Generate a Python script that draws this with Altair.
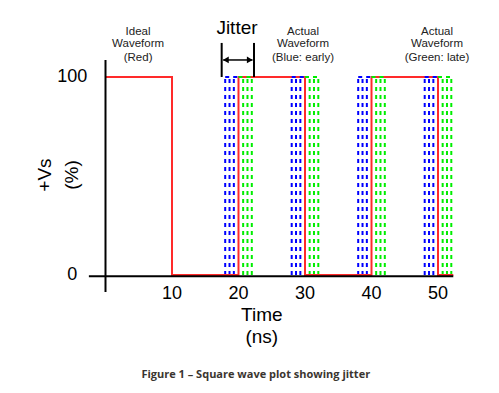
import altair as alt
import pandas as pd

# ---- data ----
ideal_t = [0, 10, 10, 20, 20, 30, 30, 40, 40, 50, 50, 52.3]
ideal_v = [100, 100, 0, 0, 100, 100, 0, 0, 100, 100, 0, 0]
edges = [20, 30, 40, 50]
early_offsets = [-2.0, -1.35, -0.7]
late_offsets = [0.7, 1.35, 2.0]
x_ticks = [10, 20, 30, 40, 50]
y_ticks = [0, 100]

FONT = "Liberation Sans, Arial, Helvetica, sans-serif"

red_df = pd.DataFrame({"t": ideal_t, "v": ideal_v, "o": list(range(len(ideal_t)))})

vert_rows = []
for e in edges:
    for o in early_offsets:
        vert_rows.append({"t": e + o, "g": "early"})
    for o in late_offsets:
        vert_rows.append({"t": e + o, "g": "late"})
vert_df = pd.DataFrame(vert_rows)
vert_df["v0"] = 0
vert_df["v1"] = 100

top_rows = []
for e in edges:
    top_rows.append({"t": e + early_offsets[0], "t2": e, "g": "early"})
    top_rows.append({"t": e, "t2": e + late_offsets[-1], "g": "late"})
top_df = pd.DataFrame(top_rows)
top_df["v"] = 100

colors = alt.Scale(domain=["early", "late"], range=["#0000ff", "#00ee00"])

xs = alt.Scale(domain=[0, 50], range=[97.5, 430])
ys = alt.Scale(domain=[0, 100], range=[267, 69])

def X(f):
    return alt.X(f, type="quantitative", scale=xs, axis=None)

def Y(f):
    return alt.Y(f, type="quantitative", scale=ys, axis=None)

# axes (crosshair style)
xaxis_df = pd.DataFrame({"t": [-2.5], "t2": [52.3], "v": [-0.6]})
yaxis_df = pd.DataFrame({"t": [0], "v": [-8.6], "v2": [108.6]})

xaxis = alt.Chart(xaxis_df).mark_rule(color="black", strokeWidth=2).encode(
    x=X("t"), x2="t2", y=Y("v"))
yaxis = alt.Chart(yaxis_df).mark_rule(color="black", strokeWidth=2).encode(
    x=X("t"), y=Y("v"), y2="v2")

verts = alt.Chart(vert_df).mark_rule(strokeWidth=2, strokeDash=[4, 4]).encode(
    x=X("t"), y=Y("v0"), y2="v1",
    color=alt.Color("g:N", scale=colors, legend=None))

red = alt.Chart(red_df).mark_line(color="#ff2a2a", strokeWidth=2).encode(
    x=X("t"), y=Y("v"), order="o:Q")

tops = alt.Chart(top_df).mark_rule(strokeWidth=2, strokeDash=[4, 4]).encode(
    x=X("t"), x2="t2", y=Y("v"),
    color=alt.Color("g:N", scale=colors, legend=None))

xt_df = pd.DataFrame({"t": x_ticks, "v": [-9.5] * len(x_ticks), "lab": [str(v) for v in x_ticks]})
yt_df = pd.DataFrame({"t": [-5.0] * len(y_ticks), "v": y_ticks, "lab": [str(v) for v in y_ticks]})

xtick_text = alt.Chart(xt_df).mark_text(fontSize=18, font=FONT, baseline="middle").encode(
    x=X("t"), y=Y("v"), text="lab:N")
ytick_text = alt.Chart(yt_df).mark_text(fontSize=18, font=FONT, baseline="middle").encode(
    x=X("t"), y=Y("v"), text="lab:N")

# annotation texts
ann_df = pd.DataFrame({
    "t": [4.9, 4.9, 4.9, 29.7, 29.7, 29.7, 49.85, 49.85, 49.85],
    "v": [122.9, 116.5, 109.8] * 3,
    "lab": ["Ideal", "Waveform", "(Red)",
            "Actual", "Waveform", "(Blue: early)",
            "Actual", "Waveform", "(Green: late)"],
})
ann = alt.Chart(ann_df).mark_text(fontSize=11.5, font=FONT, color="#222",
                                  baseline="middle").encode(x=X("t"), y=Y("v"), text="lab:N")

big_df = pd.DataFrame({"t": [19.77, 23.5, 23.5], "v": [124.5, -20.4, -31.3],
                       "lab": ["Jitter", "Time", "(ns)"]})
big = alt.Chart(big_df).mark_text(fontSize=19, font=FONT, color="black",
                                  baseline="middle").encode(x=X("t"), y=Y("v"), text="lab:N")

ylab_df = pd.DataFrame({"t": [-9.1, -5.0], "v": [50.5, 50.5], "lab": ["+Vs", "(%)"]})
ylab = alt.Chart(ylab_df).mark_text(fontSize=19, font=FONT, angle=270,
                                    baseline="middle").encode(x=X("t"), y=Y("v"), text="lab:N")

# jitter bracket
bars_df = pd.DataFrame({"t": [17.47, 22.33], "v": [100, 100], "v2": [117.2, 117.2]})
bars = alt.Chart(bars_df).mark_rule(color="black", strokeWidth=2).encode(
    x=X("t"), y=Y("v"), y2="v2")
arr_df = pd.DataFrame({"t": [17.7], "t2": [22.1], "v": [108.6]})
arr = alt.Chart(arr_df).mark_rule(color="black", strokeWidth=1.5).encode(
    x=X("t"), x2="t2", y=Y("v"))
heads_df = pd.DataFrame({"t": [18.1, 21.7], "v": [108.6, 108.6], "s": ["triangle-left", "triangle-right"]})
heads = alt.Chart(heads_df).mark_point(filled=True, color="black", size=45, opacity=1).encode(
    x=X("t"), y=Y("v"),
    shape=alt.Shape("s:N", scale=alt.Scale(domain=["triangle-left", "triangle-right"],
                                           range=["triangle-left", "triangle-right"]), legend=None))

cap_df = pd.DataFrame({"t": [22.6], "v": [-50.5], "lab": ["Figure 1 \u2013 Square wave plot showing jitter"]})
cap = alt.Chart(cap_df).mark_text(fontSize=11, font="Open Sans", fontWeight="bold", color="#3a3530",
                                  baseline="middle").encode(x=X("t"), y=Y("v"), text="lab:N")

chart = alt.layer(
    verts, red, tops, xaxis, yaxis, xtick_text, ytick_text, ann, big, ylab, bars, arr, heads, cap
).properties(
    width=483, height=377, padding=0, autosize=alt.AutoSizeParams(type="none"),
    background="white"
).configure_view(stroke=None)

chart.save("out.html", embed_options={"renderer": "svg", "actions": False})
